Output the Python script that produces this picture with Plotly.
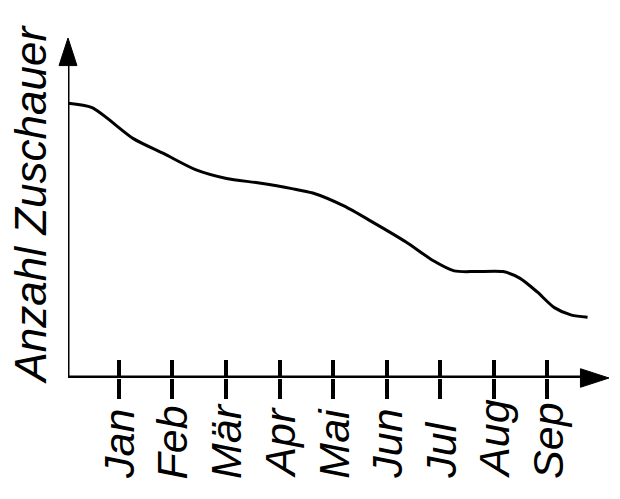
import plotly.graph_objects as go

# ---- data ----
months = ["Jan", "Feb", "Mär", "Apr", "Mai", "Jun", "Jul", "Aug", "Sep"]
month_pos = [1, 2, 3, 4, 5, 6, 7, 8, 9]
curve_x = [0.05, 0.5, 1.27, 1.85, 2.43, 3.01, 3.59, 4.23, 4.62, 5.20, 5.72,
           6.36, 6.88, 7.26, 7.65, 8.17, 8.49, 8.81, 9.13, 9.45, 9.75]
curve_y = [80.8, 79.5, 70.4, 65.9, 61.3, 58.7, 57.4, 55.7, 54.4, 50.6, 46.0,
           40.0, 34.4, 31.5, 31.3, 31.3, 29.3, 25.3, 20.7, 18.5, 17.9]
y_title = "Anzahl Zuschauer"

X0, X1 = 0.05, 10.15
Y0, Y1 = 0, 100

FONT = "Liberation Sans, Arial, sans-serif"

fig = go.Figure()

fig.add_trace(go.Scatter(
    x=curve_x, y=curve_y, mode="lines",
    line=dict(color="black", width=3, shape="spline", smoothing=0.7),
    showlegend=False, hoverinfo="skip", cliponaxis=False,
))

# arrow heads at the axis ends
fig.add_trace(go.Scatter(
    x=[X1, X0], y=[Y0, Y1], mode="markers",
    marker=dict(symbol="arrow", angle=[90, 0], size=[30, 29], color="black",
                opacity=1, line=dict(width=1, color="black")),
    showlegend=False, hoverinfo="skip", cliponaxis=False,
))

# dummy trace for the overlaid axis carrying inside ticks
fig.add_trace(go.Scatter(x=[None], y=[None], xaxis="x2", showlegend=False,
                         hoverinfo="skip"))

annotations = []
for m, p in zip(months, month_pos):
    annotations.append(dict(
        x=p, xref="x", y=-0.30, yref="paper", text=m, showarrow=False,
        textangle=-90, xanchor="center", yanchor="bottom", borderpad=0,
        font=dict(family=FONT, size=43, color="black", style="italic"),
    ))
annotations.append(dict(
    x=-0.0684, xref="paper", y=0.51, yref="paper", text=y_title,
    showarrow=False, textangle=-90, xanchor="center", yanchor="middle",
    borderpad=0,
    font=dict(family=FONT, size=44, color="black", style="italic"),
))

fig.update_layout(
    width=620, height=499,
    margin=dict(l=68, r=11, t=38, b=121),
    paper_bgcolor="white", plot_bgcolor="white",
    xaxis=dict(range=[X0, X1], showgrid=False, zeroline=False, showline=False,
               tickvals=month_pos, ticks="outside", ticklen=20, tickwidth=4,
               tickcolor="black", showticklabels=False, fixedrange=True),
    xaxis2=dict(range=[X0, X1], overlaying="x", anchor="y", side="bottom",
                showgrid=False, zeroline=False, showline=False,
                tickvals=month_pos, ticks="inside", ticklen=18, tickwidth=4,
                tickcolor="black", showticklabels=False, fixedrange=True),
    yaxis=dict(range=[Y0, Y1], showgrid=False, zeroline=False, showline=False,
               showticklabels=False, ticks="", fixedrange=True),
    shapes=[
        dict(type="line", xref="x", yref="y", x0=X0 - 0.03, y0=Y0, x1=X1 - 0.2, y1=Y0,
             line=dict(color="black", width=5)),
        dict(type="line", xref="x", yref="y", x0=X0, y0=Y0 - 0.7, x1=X0, y1=Y1 - 3,
             line=dict(color="black", width=3)),
    ],
    annotations=annotations,
)

# remove the browser's default 8px body margin so the figure fills the window
fig.write_html("out.html",
               config={"displayModeBar": False},
               post_script="document.body.style.margin='0';")
